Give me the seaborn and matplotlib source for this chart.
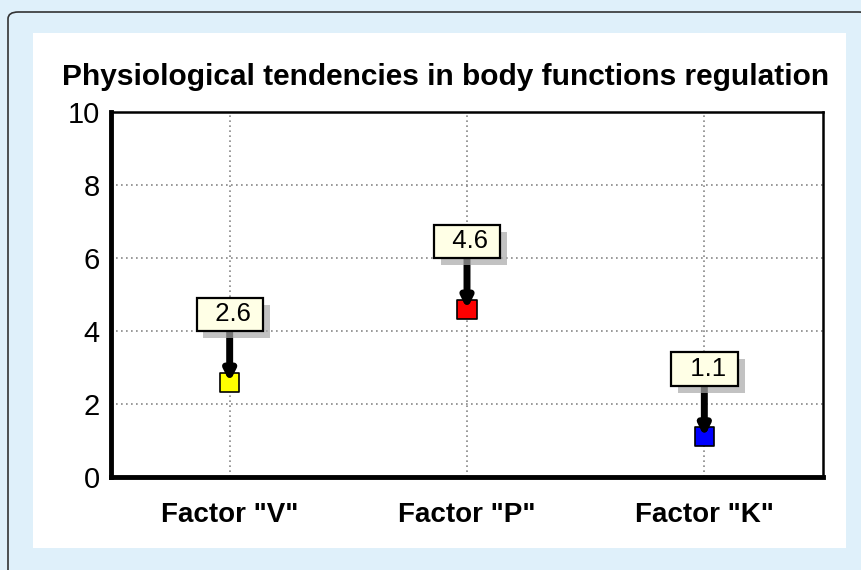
import numpy as np
import pandas as pd
import seaborn as sns
import matplotlib.pyplot as plt
from matplotlib.patches import FancyBboxPatch, Rectangle
from matplotlib.ticker import MultipleLocator
import matplotlib.patheffects as pe

# data
factors = ['Factor "V"', 'Factor "P"', 'Factor "K"']
values = [2.6, 4.6, 1.1]
labels = ["2.6", "4.6", "1.1"]
colors = ["#ffff00", "#ff0000", "#0000ff"]

sns.set_style("white")
plt.rcParams['font.family'] = ['Liberation Sans', 'DejaVu Sans']

df = pd.DataFrame({"factor": factors, "value": values})

fig = plt.figure(figsize=(8.61, 5.7), dpi=100)
fig.patch.set_facecolor("#dff0fa")

# outer frame + white panel
W, H = 861, 570
fig.patches.append(FancyBboxPatch((8 / W, -0.05), 1.0, (570 - 12) / H + 0.05,
                                  boxstyle="round,pad=0,rounding_size=0.012",
                                  transform=fig.transFigure, facecolor="#dff0fa",
                                  edgecolor="#333333", lw=1.2, zorder=-2))
fig.patches.append(Rectangle((33 / W, 1 - 548 / H), (846 - 33) / W, (548 - 33) / H,
                             transform=fig.transFigure, facecolor="white",
                             edgecolor="none", zorder=-1))

ax = fig.add_axes([111 / W, 1 - 477 / H, (823 - 111) / W, (477 - 112) / H])
ax.set_zorder(2)
ax.set_facecolor("white")

sns.scatterplot(data=df, x="factor", y="value", hue="factor", palette=colors,
                marker="s", s=190, edgecolor="black", linewidth=1.2,
                legend=False, ax=ax, zorder=3)

for i, (v, lab) in enumerate(zip(values, labels)):
    t = ax.annotate("  " + lab + " ", xy=(i, v), xytext=(i, v + 1.86),
                    ha="center", va="center", fontsize=18.5, color="black", zorder=4,
                    bbox=dict(boxstyle="square,pad=0.18", facecolor="#ffffe6",
                              edgecolor="black", lw=1.6),
                    arrowprops=dict(arrowstyle="-|>", lw=5, color="black",
                                    mutation_scale=15, shrinkA=0, shrinkB=0))
    t.get_bbox_patch().set_path_effects([
        pe.SimplePatchShadow(offset=(5, -5), shadow_rgbFace="#a8a8a8", alpha=0.7),
        pe.Normal()])

ax.set_xlim(-0.5, 2.5)
ax.set_ylim(0, 10)
ax.set_xlabel("")
ax.set_ylabel("")
ax.set_yticks(range(0, 11, 2))
ax.yaxis.set_minor_locator(MultipleLocator(0.5))
ax.xaxis.set_minor_locator(MultipleLocator(0.25))

ax.grid(True, which="major", linestyle=(0, (1, 2)), color="#888888", lw=1.2)
ax.set_axisbelow(True)

for side in ["left", "bottom"]:
    ax.spines[side].set_linewidth(3.5)
for side in ["top", "right"]:
    ax.spines[side].set_linewidth(1.8)
for s in ax.spines.values():
    s.set_color("black")
    s.set_visible(True)

ax.tick_params(axis="y", which="major", direction="out", length=6, width=1.2,
               color="#777777", labelsize=21, pad=2, labelcolor="black")
ax.tick_params(axis="y", which="minor", direction="inout", length=5, width=1.2,
               color="#777777")
ax.tick_params(axis="x", which="major", direction="out", length=9, width=1.2,
               color="#777777", pad=9, labelcolor="black")
ax.tick_params(axis="x", which="minor", direction="out", length=6, width=1.2,
               color="#777777")
for lab in ax.get_xticklabels():
    lab.set_fontweight("bold")
    lab.set_fontsize(20)

fig.text(0.517, 1 - 77 / H, "Physiological tendencies in body functions regulation",
         ha="center", va="center", fontsize=21.5, fontweight="bold", color="black")

fig.savefig("out.png", dpi=100, facecolor=fig.get_facecolor())
